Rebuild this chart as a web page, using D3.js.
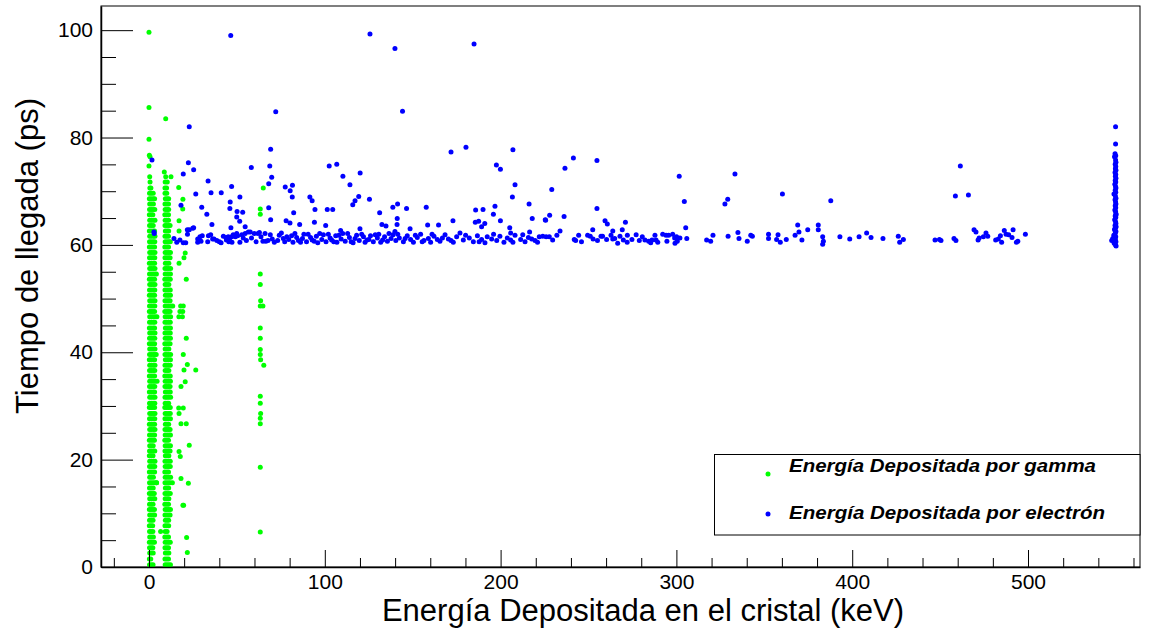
<!DOCTYPE html>
<html><head><meta charset="utf-8">
<script src="https://cdn.jsdelivr.net/npm/d3@7"></script>
<style>html,body{margin:0;padding:0;background:#fff;} svg{display:block;}</style>
</head><body><svg id="c" width="1155" height="630"></svg>
<script>
// ---------------- DATA ----------------
const seriesNames = ["Energía Depositada por gamma", "Energía Depositada por electrón"];
const xTitle = "Energía Depositada en el cristal (keV)";
const yTitle = "Tiempo de llegada (ps)";
const xMajorTicks = [0, 100, 200, 300, 400, 500];
const yMajorTicks = [0, 20, 40, 60, 80, 100];

// arrival-time rows of the two dense gamma columns (ps)
const gammaRowTimes = [0.4,1.5,2.6,3.6,4.6,5.6,6.6,7.7,8.7,9.7,10.7,11.7,12.7,13.7,14.7,15.7,16.7,17.7,18.7,19.7,
  20.7,21.6,22.6,23.6,24.6,25.6,26.6,27.6,28.6,29.7,30.5,31.6,32.6,33.6,34.6,35.6,36.6,37.6,38.6,39.6,
  40.6,41.6,42.6,43.6,44.5,45.6,46.6,47.6,48.6,49.6,50.6,51.6,52.6,53.6,54.6,55.6,56.6,57.6,58.6,59.6,
  60.6,61.6,62.6,63.6,64.6,65.6,66.6,67.6,68.6,69.6,70.6,71.7,72.7];

// energies (keV) of gamma points in each row, column near 0 keV
const gammaColA = [
 [0.3,1.3,2.3],[0.2,1.0],[0.4,1.4,2.4],[0.3,1.3,2.2],[0.2,1.2,2.2,3.1],[0.4,1.4,2.5],[0.3,1.2,2.2],[0.2,1.1,2.1],
 [0.3,1.3,2.3],[0.4,1.4,2.4,3.2],[0.2,1.2,2.2,3.1],[0.3,1.3,2.3],[0.4,1.4,2.5,3.3],[0.2,1.2,2.2,3.0],[0.3,1.3,2.4],
 [0.3,1.3,2.3,3.3,4.3],[0.4,1.4,2.5],[0.2,1.2,2.2,3.2],[0.3,1.3,2.4,3.3],[0.4,1.4,2.5,3.4],[0.2,1.2,2.3],
 [0.3,1.3,2.4,3.3],[0.4,1.4,2.4],[0.2,1.2,2.2,3.1],[0.3,1.3,2.3,3.2],[0.4,1.4,2.5,3.4],[0.2,1.2,2.2,3.2],
 [0.3,1.3,2.4,3.3],[0.4,1.4,2.4,3.4],[0.2,1.2,2.2,3.2],[0.3,1.3,2.3,3.3],[0.4,1.4,2.5,3.4],[0.2,1.2,2.3,3.2],
 [0.3,1.3,2.4,3.3],[0.4,1.4,2.4,3.4,4.6],[0.2,1.2,2.2,3.2],[0.3,1.3,2.4,3.3],[0.4,1.4,2.5,3.4],[0.2,1.2,2.3,3.2],
 [0.3,1.3,2.4,3.3,4.1],[0.4,1.4,2.4,3.4],[0.2,1.2,2.2,3.2],[0.3,1.3,2.3,3.3],[0.4,1.4,2.5,3.4],[0.2,1.2,2.3,3.2],
 [0.3,1.3,2.4,3.3],[0.4,1.4,2.4,3.4,4.5],[0.2,1.2,2.2,3.2],[0.3,1.3,2.3,3.3],[0.4,1.4,2.5,3.4],[0.2,1.2,2.3,3.2],
 [0.3,1.3,2.4,3.3],[0.4,1.4,2.4,3.4],[0.2,1.2,2.2,3.2],[0.3,1.3,2.3,3.3,4.2],[0.4,1.4,2.5,3.4],[0.2,1.2,2.3,3.2],
 [0.3,1.3,2.4,3.3],[0.4,1.4,2.4,3.4],[0.2,1.2,2.2,3.2],[0.3,1.3,2.3,3.3],[0.4,1.4,2.5,3.4],[0.2,1.2,2.3,3.2],
 [0.3,1.3,2.4],[0.4,1.4,2.4,3.4],[0.2,1.2,2.2],[0.3,1.3,2.3,3.3],[0.4,1.4,2.5],[0.2,1.2,2.3,3.2],[0.3,1.3,2.4],
 [0.5,1.1],[0.6],[0.4]
];
// energies (keV) of gamma points in each row, column near 10 keV
const gammaColB = [
 [9.2,10.2,11.2,12.2],[9.1,10.1,11.1],[9.3,10.3,11.3],[9.1,10.1,11.1],[9.2,10.2,11.2,12.1],[9.0,10.1,11.1],[9.2,10.3],
 [9.1,10.1,11.2],[9.3,10.3,11.2],[9.1,10.1,11.1,12.0],[9.2,10.2,11.2,12.2],[9.0,10.1,11.1],[9.2,10.3,11.3],
 [9.1,10.1,11.1,12.1],[9.3,10.3,11.2],[9.1,10.1,11.1,12.0],[9.2,10.2,11.3,12.3],[9.0,10.1,11.1],[9.2,10.3,11.2,12.1],
 [9.1,10.1,11.1,12.1],[9.3,10.3,11.3],[9.1,10.1,11.1,12.0],[9.2,10.2,11.2,12.2],[9.0,10.1,11.1],[9.2,10.3,11.3,12.2],
 [9.1,10.1,11.1,12.0],[9.3,10.3,11.2],[9.1,10.1,11.1,12.2],[9.2,10.2,11.3,12.1],[9.0,10.1,11.1,12.1],[9.2,10.3,11.2],
 [9.1,10.1,11.1,12.3],[9.3,10.3,11.3,12.1],[9.1,10.1,11.1,12.0],[9.2,10.2,11.2,12.2],[9.0,10.1,11.1,12.1],[9.2,10.3,11.3],
 [9.1,10.1,11.1,12.1],[9.3,10.3,11.2,12.2],[9.1,10.1,11.1,12.3],[9.2,10.2,11.3],[9.0,10.1,11.1,12.0],[9.2,10.3,11.2,12.2],
 [9.1,10.1,11.1,12.1],[9.3,10.3,11.3,12.2],[9.1,10.1,11.1,12.1],[9.2,10.2,11.2,12.3],[9.0,10.1,11.1,12.0],[9.2,10.3,11.3,12.4],
 [9.1,10.1,11.1,12.0],[9.3,10.3,11.2,12.2],[9.1,10.1,11.1,12.1],[9.2,10.2,11.3],[9.0,10.1,11.1,12.1],[9.2,10.3,11.2,12.2],
 [9.1,10.1,11.1,12.3],[9.3,10.3,11.3],[9.1,10.1,11.1,12.0],[9.2,10.2,11.2,12.2],[9.0,10.1,11.1],[9.2,10.3,11.3,12.1],
 [9.1,10.1,11.1],[9.3,10.3,11.2],[9.1,10.1,11.1,12.0],[9.2,10.2,11.1],[9.0,10.1,11.1],[9.2,10.3,11.2],[9.1,10.1,11.1],
 [9.3,10.3,11.2],[9.1,10.1],[9.1,10.0],[9.2,10.4],[9.5,12.5]
];
// other gamma points [energy keV, time ps]
const gammaScatter = [
 [0.0,74.7],[0.2,76.7],[0.6,76.4],[0.0,79.7],[0.0,85.6],[0.0,99.6],[9.5,83.5],[8.7,73.6],[6.6,6.6],[4.3,15.7],[13.3,15.7],[13.5,48.6],
 [16.9,70.7],[19.3,68.5],[19.2,66.7],[17.1,64.5],[17.1,62.6],[20.6,58.5],[19.9,57.6],[17.1,56.6],[21.2,53.6],
 [18.0,48.6],[19.5,48.6],[17.6,47.6],[19.2,47.6],[17.0,46.6],[19.0,46.6],[21.2,42.6],[19.5,39.6],[21.8,37.7],
 [19.9,36.7],[26.6,36.7],[20.6,34.5],[18.2,33.6],[16.9,29.6],[19.5,29.6],[17.1,28.6],[18.2,26.7],[21.2,26.7],
 [22.9,22.7],[17.1,21.5],[17.8,20.6],[18.2,16.5],[22.4,15.6],[19.3,11.5],[19.7,11.5],[21.4,5.5],[21.8,2.7],
 [65.0,70.6],[63.3,66.7],[63.3,65.7],[63.3,54.6],[63.3,52.6],[63.5,49.6],[63.3,48.6],[64.8,48.6],[63.3,44.5],
 [63.3,42.6],[63.3,40.5],[63.3,39.6],[63.5,38.6],[65.3,37.6],[63.3,31.8],[63.3,30.5],[63.5,28.6],[63.3,27.7],
 [63.3,26.7],[63.3,18.6],[63.3,6.5]
];

// electron points above the 61 ps band [energy keV, time ps]
const electronUpper = [
 [46.5,99.0],[125.7,99.3],[139.9,96.6],[184.9,97.4],[72.1,84.8],[144.2,84.9],[22.9,82.0],[1.7,75.8],[2.8,62.4],
 [22.4,75.3],[25.4,74.0],[19.5,73.2],[69.2,77.8],[68.7,74.7],[69.8,72.6],[68.1,71.4],[58.2,74.4],[102.5,74.7],
 [106.8,75.0],[110.3,72.8],[120.1,73.4],[114.3,71.2],[47.0,70.9],[81.6,71.1],[77.5,70.8],[80.3,70.1],[81.5,68.9],
 [33.6,71.9],[41.1,69.7],[35.3,69.7],[26.6,69.5],[51.7,68.9],[46.2,68.0],[46.0,66.8],[18.2,67.4],[30.0,67.0],
 [32.9,65.7],[50.1,66.2],[53.3,66.1],[49.9,65.2],[51.6,64.4],[54.7,63.4],[35.8,63.8],[21.8,62.8],[24.9,63.1],
 [46.6,63.2],[68.1,66.9],[69.2,64.7],[91.5,68.9],[92.8,68.2],[94.4,66.6],[101.4,66.6],[104.5,66.6],[78.0,64.5],
 [80.2,64.1],[82.3,66.0],[85.7,63.8],[94.1,64.2],[100.5,63.6],[109.0,62.7],[115.9,67.5],[117.2,68.2],[119.3,69.0],
 [120.0,63.0],[125.4,68.5],[131.2,66.0],[132.5,63.8],[134.8,63.5],[138.7,67.0],[141.4,67.6],[141.1,63.8],[139.9,62.5],
 [197.6,74.9],[199.9,74.1],[208.2,71.2],[206.7,68.9],[216.2,67.6],[146.5,66.8],[157.7,67.0],[141.2,64.9],[148.5,63.0],
 [158.5,63.7],[164.7,63.7],[172.9,64.5],[185.8,66.5],[190.0,66.6],[185.6,64.2],[187.5,64.4],[191.0,64.0],[195.9,65.7],
 [196.8,67.2],[199.9,64.5],[189.2,63.4],[205.2,63.2],[205.7,62.2],[216.5,62.4],[218.0,64.9],[225.6,64.6],
 [171.8,77.3],[180.3,78.2],[207.0,77.7],
 [241.4,76.2],[236.6,74.3],[254.8,75.7],[229.1,70.3],[227.9,65.5],[225.4,64.7],[236.1,65.3],[254.8,66.8],[233.8,62.6],
 [259.4,64.5],[260.7,63.9],[263.8,62.6],[271.0,64.2],[269.2,62.8],[301.6,72.8],[304.5,68.1],[305.3,63.2],[333.3,73.2],
 [329.2,68.5],[327.6,67.6],[360.3,69.5],[387.8,68.2],[369.0,63.7],[369.7,62.4],[374.7,62.8],[380.7,63.7],[380.7,62.8],
 [461.5,74.7],[458.7,69.1],[466.1,69.3]
];
// electron points in the dense band near 61 ps [energy keV, time ps]
const electronBand = [
 [3.0,62.1],[14.2,61.2],[15.8,60.5],[17.6,60.9],[19.5,60.4],[20.9,60.4],[22.9,62.8],[21.9,62.0],[25.4,63.2],[27.7,61.1],
 [29.0,61.5],[30.3,61.7],[29.6,60.7],[27.7,60.5],[33.8,61.7],[36.2,61.1],[37.0,61.1],[33.4,60.6],[40.0,60.6],[41.0,60.4],
 [43.8,61.4],[45.1,61.5],[46.0,61.3],[47.0,61.5],[47.9,61.9],[44.0,60.9],[45.4,60.6],[47.2,60.5],[49.1,61.5],[49.9,62.1],
 [50.4,61.7],[51.7,60.5],[53.6,61.3],[54.7,62.1],[56.5,62.4],[57.6,62.4],[59.9,62.1],[62.0,62.1],[62.8,62.3],[64.8,60.7],
 [66.5,60.7],[67.7,60.8],[70.1,61.1],[71.3,60.5],[73.2,60.8],[74.1,61.8],[76.4,61.2],[77.2,60.6],[79.5,61.0],[81.1,61.7],
 [81.9,60.5],[84.0,61.4],[85.0,60.8],[87.3,61.2],[88.1,62.0],[89.6,60.6],[91.9,61.4],[92.8,60.9],[95.2,61.6],[96.0,60.4],
 [98.3,61.0],[99.2,61.9],[100.7,60.6],[103.0,61.3],[103.9,60.9],[106.2,61.7],[106.9,60.5],[109.3,61.1],[110.2,62.1],
 [111.6,60.7],[114.0,61.4],[115.0,60.6],[117.2,61.2],[118.1,61.8],[119.6,60.8],[122.0,61.5],[122.9,60.5],[125.1,61.0],
 [126.0,61.7],[127.6,60.6],[129.9,61.3],[130.7,62.0],[132.9,60.9],[134.0,61.5],[135.6,60.7],[137.7,61.2],[138.8,61.9],
 [140.4,60.8],[142.4,61.3],[144.7,60.6],[146.9,61.7],[148.8,61.0],[150.4,60.5],[152.6,61.4],[154.5,62.0],[156.4,60.8],
 [158.9,61.2],[160.2,60.5],[162.1,61.6],[164.0,61.0],[165.5,60.7],[168.4,61.9],[170.3,61.1],[173.1,60.5],[175.0,61.5],
 [176.9,62.2],[178.8,60.9],[182.2,61.3],[184.5,60.6],[186.8,61.7],[189.2,61.0],[191.1,60.4],[192.4,61.5],[194.9,61.1],
 [197.8,60.8],[199.6,61.6],[201.9,60.5],[203.8,61.3],[205.7,60.9],[208.2,61.8],[211.4,61.0],[213.9,60.6],[215.8,61.4],
 [217.7,61.1],[219.6,60.8],[222.0,61.5],[224.0,61.6],[225.9,61.5],[227.7,61.5],[229.6,60.9],[241.9,61.0],[242.7,60.8],
 [244.4,61.8],[249.5,61.8],[251.0,61.6],[252.6,61.1],[252.4,62.8],[257.1,61.6],[258.0,61.6],[262.8,61.8],[263.8,61.1],
 [264.9,61.2],[266.6,60.3],[269.8,60.9],[272.0,60.5],[272.1,61.8],[274.7,61.0],[278.9,60.8],[282.1,60.9],[284.2,60.7],
 [285.4,60.4],[286.1,60.9],[287.8,61.8],[288.4,60.9],[289.4,60.5],[292.2,62.0],[294.1,61.8],[295.6,61.8],[294.6,60.7],
 [297.9,62.0],[299.0,61.3],[300.1,61.5],[299.2,60.3],[300.5,60.7],[302.0,61.3],[305.9,61.2],[317.2,60.9],[319.5,60.7],
 [320.8,61.8],[329.4,61.6],[335.0,62.3],[335.6,61.2],[340.3,60.7],[342.3,61.8],[343.2,61.6],[352.4,62.0],[352.4,61.2],
 [357.8,61.9],[357.0,61.0],[359.1,60.5],[362.5,61.0],[367.5,61.8],[371.4,60.9],[383.2,61.5],[383.6,60.7],[383.2,60.1],
 [393.0,61.5],[398.6,61.1],[403.9,61.5],[408.2,62.2],[410.7,61.4],[417.5,61.2],[426.2,61.6],[427.0,60.5],[429.1,61.0],
 [447.1,60.9],[449.6,61.0],[450.5,60.8],[457.9,61.2],[459.0,60.8],[469.3,62.8],[470.4,62.4],[471.6,60.9],[472.2,61.3],
 [474.6,61.5],[476.1,62.2],[477.1,61.6],[481.6,60.9],[483.1,61.1],[484.3,61.7],[485.0,60.5],[486.5,62.7],[487.5,62.0],
 [489.0,61.9],[490.9,61.4],[491.5,62.8],[493.4,60.5],[494.2,60.7],[498.5,62.0],
 [35.1,61.9],[38.6,60.8],[42.3,61.6],[52.8,61.9],[55.4,60.8],[58.3,61.3],[60.9,60.6],[63.7,61.5],[66.0,62.1],[69.0,61.9],
 [75.3,62.2],[78.4,61.5],[83.0,62.1],[86.2,60.5],[90.5,62.0],[94.0,60.7],[97.1,62.1],[102.0,62.0],[105.1,60.6],[108.0,61.8],
 [113.0,62.1],[116.1,60.4],[121.0,62.0],[124.0,60.9],[128.7,61.9],[131.8,60.5],[136.5,62.1],[141.5,62.0],[145.7,61.2],
 [151.5,61.8],[155.4,60.6],[161.0,62.0],[166.9,61.3],[171.8,60.8],[180.1,61.8],[187.8,60.6],[196.0,62.0],[207.0,60.5],
 [212.6,61.9],[221.0,60.5],[232.0,61.8],[246.0,60.6],[255.1,60.8],[260.3,61.0],[267.9,61.6],[277.1,61.9],[280.6,61.5]
];
// electron full-energy column near 550 keV [energy keV, time ps]
const electronPeak = [
 [549.8,82.0],[549.8,78.8],[549.5,77.0],[549.9,76.6],[549.2,76.4],[549.8,75.8],[550.0,75.4],[549.6,75.0],[549.9,74.6],
 [549.7,74.2],[550.0,73.9],[549.5,73.5],[549.9,73.1],[549.7,72.8],[550.0,72.4],[549.6,72.0],[549.9,71.7],[549.4,71.3],
 [549.8,70.9],[550.0,70.6],[549.6,70.2],[549.9,69.8],[548.9,69.5],[549.7,69.1],[550.0,68.7],[549.5,68.4],[549.8,68.0],
 [550.0,67.6],[549.6,67.3],[549.9,66.9],[549.4,66.5],[549.8,66.2],[550.0,65.8],[549.6,65.4],[549.9,65.1],[549.3,64.7],
 [549.8,64.3],[550.0,64.0],[549.5,63.6],[549.8,63.2],[549.2,62.9],[550.0,62.5],[549.6,62.1],[548.8,61.8],[549.9,61.5],
 [548.2,61.2],[549.7,61.0],[547.6,60.8],[550.0,60.6],[549.0,60.3],[549.8,60.0],[550.1,59.8],[549.3,61.6],[549.5,62.7],
 [550.1,63.4],[550.1,65.6]
];

// ---------------- DRAW ----------------
const W = 1155, H = 630;
const frame = {left: 101, right: 1140, top: 6, bottom: 567};
const FONT = "'Liberation Sans', Arial, Helvetica, sans-serif";
const GREEN = "#00ff00", BLUE = "#0000ff";

const svg = d3.select("#c");
svg.append("rect").attr("width", W).attr("height", H).attr("fill", "#fff");

const x = d3.scaleLinear().domain([-27.3, 563.7]).range([frame.left, frame.right]);
const y = d3.scaleLinear().domain([0, 104.5]).range([frame.bottom, frame.top]);

// frame
svg.append("rect").attr("x", frame.left).attr("y", frame.top)
  .attr("width", frame.right - frame.left).attr("height", frame.bottom - frame.top)
  .attr("fill", "none").attr("stroke", "#000").attr("stroke-width", 1);

// build points
const gammaPts = [];
gammaRowTimes.forEach((t, i) => {
  (gammaColA[i] || []).forEach(e => gammaPts.push([e, t]));
  (gammaColB[i] || []).forEach(e => gammaPts.push([e, t]));
});
gammaScatter.forEach(p => gammaPts.push(p));
const electronPts = [].concat(electronBand, electronUpper, electronPeak);

const R = 2.5;
svg.append("g").selectAll("circle").data(gammaPts).join("circle")
  .attr("cx", d => x(d[0])).attr("cy", d => y(d[1])).attr("r", R).attr("fill", GREEN);
svg.append("g").selectAll("circle").data(electronPts).join("circle")
  .attr("cx", d => x(d[0])).attr("cy", d => y(d[1])).attr("r", R).attr("fill", BLUE);

// axes
const xMinor = d3.range(-20, 561, 20).filter(v => v % 100 !== 0);
const yMinor = d3.range(0, 104, 5).filter(v => v % 20 !== 0);

const gx = svg.append("g").attr("transform", `translate(0,${frame.bottom})`)
  .call(d3.axisBottom(x).tickValues(xMajorTicks).tickSize(-17).tickSizeOuter(0).tickPadding(6));
svg.append("g").attr("transform", `translate(0,${frame.bottom})`)
  .call(d3.axisBottom(x).tickValues(xMinor).tickSize(-9).tickSizeOuter(0).tickFormat(""))
  .select(".domain").remove();
const gy = svg.append("g").attr("transform", `translate(${frame.left},0)`)
  .call(d3.axisLeft(y).tickValues(yMajorTicks).tickSize(-32).tickSizeOuter(0).tickPadding(8));
svg.append("g").attr("transform", `translate(${frame.left},0)`)
  .call(d3.axisLeft(y).tickValues(yMinor).tickSize(-15).tickSizeOuter(0).tickFormat(""))
  .select(".domain").remove();

svg.selectAll(".tick line").attr("stroke", "#000").attr("stroke-width", 1);
svg.selectAll(".domain").attr("stroke", "#000").attr("stroke-width", 1.5);
gx.selectAll(".tick text").attr("font-family", FONT).attr("font-size", 21).attr("fill", "#000").attr("dy", "0.75em");
gy.selectAll(".tick text").attr("font-family", FONT).attr("font-size", 21).attr("fill", "#000");

// titles
svg.append("text").attr("x", 643).attr("y", 621).attr("text-anchor", "middle")
  .attr("font-family", FONT).attr("font-size", 31).attr("fill", "#000").text(xTitle);
svg.append("text").attr("transform", "translate(38,256) rotate(-90)").attr("text-anchor", "middle")
  .attr("font-family", FONT).attr("font-size", 31).attr("fill", "#000").text(yTitle);

// legend
const lg = svg.append("g");
lg.append("rect").attr("x", 714.5).attr("y", 454.5).attr("width", 1140 - 714.5).attr("height", 80.5)
  .attr("fill", "#fff").attr("stroke", "#000").attr("stroke-width", 1);
const legendColors = [GREEN, BLUE];
const legendRows = [{ty: 472, my: 474, len: 307}, {ty: 519, my: 514, len: 316}];
seriesNames.forEach((name, i) => {
  lg.append("circle").attr("cx", 768).attr("cy", legendRows[i].my).attr("r", R).attr("fill", legendColors[i]);
  lg.append("text").attr("x", 789).attr("y", legendRows[i].ty)
    .attr("font-family", FONT).attr("font-size", 18).attr("font-weight", "bold").attr("font-style", "italic")
    .attr("textLength", legendRows[i].len).attr("lengthAdjust", "spacingAndGlyphs")
    .attr("fill", "#000").text(name);
});
</script>
</body></html>
